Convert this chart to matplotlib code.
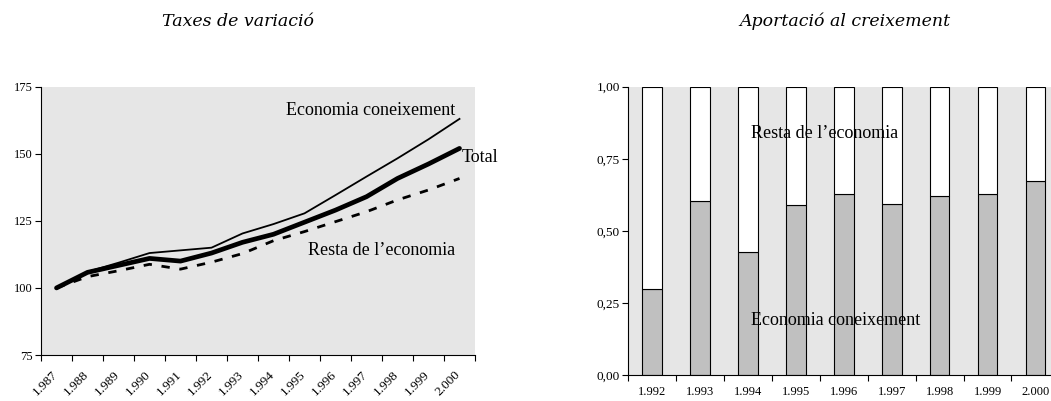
import matplotlib
matplotlib.use("Agg")
import matplotlib.pyplot as plt
import matplotlib.transforms as mtransforms
import numpy as np

plt.rcParams['font.family'] = ['Liberation Serif', 'DejaVu Serif']

# ---- data ----
years_left = ["1.987", "1.988", "1.989", "1.990", "1.991", "1.992", "1.993",
              "1.994", "1.995", "1.996", "1.997", "1.998", "1.999", "2.000"]
economia_coneixement = [100, 106, 109.4, 113, 114, 115, 120.3, 123.8, 127.8,
                        134.6, 141.5, 148.3, 155.4, 163]
total = [100, 105.8, 108.4, 111, 110, 113, 117, 120, 124.5, 129, 134, 140.8,
         146.2, 152]
resta_economia = [100, 104.2, 106.4, 108.8, 107, 109.6, 112.8, 117.6, 121,
                  124.7, 128.4, 132.8, 136.5, 140.8]

years_right = ["1.992", "1.993", "1.994", "1.995", "1.996", "1.997", "1.998",
               "1.999", "2.000"]
aport_coneixement = [0.30, 0.603, 0.425, 0.588, 0.627, 0.592, 0.620, 0.627, 0.672]
aport_resta = [1 - v for v in aport_coneixement]

W, H = 1051, 401
fig = plt.figure(figsize=(W / 100, H / 100), dpi=100)
bg = '#e6e6e6'

# ---- left chart ----
l, r, t, b = 41, 475, 86.7, 355
ax1 = fig.add_axes([l / W, (H - b) / H, (r - l) / W, (b - t) / H])
ax1.set_facecolor(bg)
x = np.arange(len(years_left))
ax1.plot(x, economia_coneixement, color='black', lw=1.3, solid_joinstyle='round')
ax1.plot(x, resta_economia, color='black', lw=2.0, dashes=(3, 3.5))
ax1.plot(x, total, color='black', lw=3.4, solid_capstyle='round', solid_joinstyle='round')
ax1.set_xlim(-0.5, len(years_left) - 0.5)
ax1.set_ylim(75, 175)
ax1.set_yticks([75, 100, 125, 150, 175])
ax1.set_yticklabels(['75', '100', '125', '150', '175'], fontsize=9)
ax1.set_xticks(np.arange(len(years_left) + 1) - 0.5)
ax1.set_xticklabels([])
ax1.set_xticks(x, minor=True)
ax1.set_xticklabels(years_left, minor=True, rotation=45, ha='right', va='top',
                    rotation_mode='anchor', fontsize=9.5)
ax1.tick_params(axis='x', which='minor', length=0, pad=10)
ax1.tick_params(axis='x', which='major', direction='out', length=4, width=0.8)
ax1.tick_params(axis='y', direction='out', length=4, width=0.8, pad=2)
offset = mtransforms.ScaledTranslation(-5 / 100, 0, fig.dpi_scale_trans)
for lab in ax1.get_xticklabels(minor=True):
    lab.set_transform(lab.get_transform() + offset)
for s in ['top', 'right']:
    ax1.spines[s].set_visible(False)
ax1.spines['left'].set_linewidth(0.8)
ax1.spines['bottom'].set_linewidth(0.8)

ax1.text(12.85, 166.2, "Economia coneixement", ha='right', va='center', fontsize=13)
ax1.text(13.08, 148.5, "Total", ha='left', va='center', fontsize=13)
ax1.text(12.85, 114.1, "Resta de l\u2019economia", ha='right', va='center', fontsize=13)
fig.text(238 / W, 1 - 21 / H, "Taxes de variaci\u00f3", ha='center', va='center',
         fontsize=12.5, style='italic', family='DejaVu Serif')

# ---- right chart ----
l2, t2, b2 = 628.3, 86.7, 375
cw = 47.9
r2 = l2 + cw * len(years_right)
ax2 = fig.add_axes([l2 / W, (H - b2) / H, (r2 - l2) / W, (b2 - t2) / H])
ax2.set_facecolor(bg)
xr = np.arange(len(years_right))
ax2.bar(xr, aport_coneixement, width=0.41, color='#c0c0c0', edgecolor='black', lw=0.8)
ax2.bar(xr, aport_resta, bottom=aport_coneixement, width=0.41, color='white',
        edgecolor='black', lw=0.8)
ax2.set_xlim(-0.5, len(years_right) - 0.5)
ax2.set_ylim(0, 1)
ax2.set_yticks([0, 0.25, 0.5, 0.75, 1.0])
ax2.set_yticklabels(['0,00', '0,25', '0,50', '0,75', '1,00'], fontsize=9.5)
ax2.set_xticks(np.arange(len(years_right) + 1) - 0.5)
ax2.set_xticklabels([])
ax2.set_xticks(xr, minor=True)
ax2.set_xticklabels(years_right, minor=True, fontsize=9)
ax2.tick_params(axis='x', which='minor', length=0, pad=8)
ax2.tick_params(axis='x', which='major', direction='out', length=4, width=0.8)
ax2.tick_params(axis='y', direction='out', length=4, width=0.8, pad=2)
for s in ['top', 'right']:
    ax2.spines[s].set_visible(False)
ax2.spines['left'].set_linewidth(0.8)
ax2.spines['bottom'].set_linewidth(0.8)
ax2.text(2.06, 0.836, "Resta de l\u2019economia", ha='left', va='center', fontsize=13)
ax2.text(2.06, 0.19, "Economia coneixement", ha='left', va='center', fontsize=13)
fig.text(845 / W, 1 - 21 / H, "Aportaci\u00f3 al creixement", ha='center', va='center',
         fontsize=12.5, style='italic', family='DejaVu Serif')

fig.savefig("out.png", dpi=100)
